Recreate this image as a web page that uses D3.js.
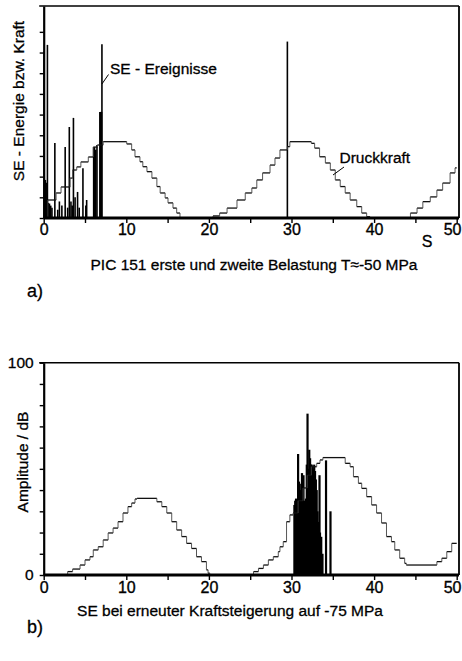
<!DOCTYPE html>
<html>
<head>
<meta charset="utf-8">
<script src="https://cdn.jsdelivr.net/npm/d3@7/dist/d3.min.js"></script>
<style>
  html, body { margin: 0; padding: 0; background: #fff; }
  svg { display: block; }
  text { font-family: "Liberation Sans", Arial, sans-serif; fill: #000; }
</style>
</head>
<body>
<svg id="chart" width="462" height="661"></svg>
<script>
// ---- Data ----------------------------------------------------------------
// a) first and second loading: compressive force, stepped (time in s, level)
const forceATime = [0, 0.5, 1.5, 2.1, 3.2, 3.5, 4.0, 4.5, 5.4, 6.0, 6.5, 7.2,
  10.05, 10.65, 11.05, 11.65, 12.0, 12.5, 13.1, 13.7, 14.1, 14.7, 15.05, 15.65, 16.1, 16.5,
  20.5, 21.3, 22.2, 23.4, 24.4, 25.2, 25.8, 26.5, 27.4, 28.0, 28.6, 29.5, 29.8,
  32.4, 32.8, 33.4, 34.1, 34.7, 35.3, 35.9, 36.5, 37.1, 37.9, 38.5, 39.1, 39.5,
  44.4, 45.2, 45.9, 46.8, 47.6, 48.3, 49.2, 49.8, 50];
const forceAValue = [0, 8.7, 12.1, 15, 19.3, 23.2, 24.7, 27.1, 29.5, 34.3, 35.3, 36.9,
  35.8, 32.9, 29.6, 27.2, 24.8, 22.4, 19.3, 15.2, 12.1, 9.7, 7.3, 4.8, 2.4, 0,
  1, 2.4, 4.8, 8.7, 12.1, 14.5, 18.4, 21.8, 25.6, 29, 32.9, 34.5, 36.9,
  36.1, 33.8, 29.6, 26.6, 23.2, 18.4, 15.2, 12.1, 8.7, 5.5, 2.4, 0.6, 0,
  2.4, 4.8, 7.9, 10.2, 13.5, 16.9, 21.8, 24.2, 24.2];

// a) acoustic emission events (time in s, energy)
const eventsATime = [0.05, 0.1, 0.2, 0.3, 0.45, 0.55, 0.7, 0.85, 1.0, 1.35, 1.7, 1.9, 2.2,
  2.6, 2.9, 3.1, 3.3, 3.45, 3.6, 3.8, 4.1, 4.3, 4.75, 5.1, 5.2, 6.05, 6.15, 6.3, 6.45,
  6.8, 6.9, 7.0, 7.05, 29.5];
const eventsAValue = [80.6, 18.4, 18.4, 17, 83.7, 7.3, 7, 6, 5, 36.3, 4, 8, 6,
  34.3, 5, 44, 8, 6, 48.4, 10, 12.6, 5, 24, 6, 8.7, 34.3, 34.3, 33, 35.3,
  51.3, 51.3, 51.3, 84, 85.3];

// b) renewed load increase to -75 MPa: compressive force, stepped
const forceBTime = [0, 2.9, 3.5, 4.4, 5.0, 5.6, 6.0, 6.6, 7.2, 7.8, 8.4, 9.0, 9.6, 10.2, 10.65,
  11.05, 11.3, 13.7, 14.3, 14.9, 15.5, 16.1, 16.7, 17.3, 17.9, 18.5, 19.1, 19.7, 19.9, 20.1,
  25.4, 26.0, 26.6, 27.2, 27.8, 28.4, 28.6, 29.0, 29.4, 29.8, 30.2, 30.8, 31.4, 31.9, 32.4,
  33.05, 33.45, 33.8, 36.5, 37.1, 37.5, 38.1, 38.5, 39.1, 39.7, 40.3, 40.9, 41.5, 42.1, 42.5,
  43.1, 43.7, 43.9, 47.6, 48.2, 48.8, 49.4, 50];
const forceBValue = [0, 1.6, 2.8, 4.7, 7.1, 8.6, 11.8, 13.3, 16.5, 19.8, 22.1, 25.1, 29.2, 32.2, 33.9,
  35.8, 36.1, 34.5, 32.2, 29.2, 25.1, 21.2, 18.1, 14.9, 12.5, 8.6, 6.3, 2.4, 0.9, 0,
  1.6, 3.1, 4.7, 7.1, 8.6, 11, 13.3, 15.7, 25.1, 28.3, 29.2, 35, 41, 47, 51,
  52.6, 54.2, 55.3, 52.6, 51, 46.3, 43.2, 40.8, 36.9, 33, 29.2, 24.5, 18.1, 15.7, 11.8,
  7.9, 5.5, 4.7, 6.3, 7.9, 11, 14.9, 14.9];

// b) acoustic emission amplitudes (time in s, dB)
const eventsBTime = [30.35, 30.45, 30.55, 30.65, 30.8, 30.9, 31.0, 31.1, 31.2, 31.27, 31.35,
  31.45, 31.55, 31.65, 31.75, 31.85, 31.94, 32.05, 32.15, 32.25, 32.35, 32.45, 32.55, 32.65,
  32.75, 32.85, 32.95, 33.05, 33.15, 33.25, 33.39, 33.45, 33.6, 33.75, 34.18, 34.72];
const eventsBValue = [33, 35, 36, 35, 57, 44, 43, 40, 38, 48, 45,
  47, 35, 33, 36, 52, 76, 50, 59, 55, 52, 52, 51, 50,
  52, 49, 45, 40, 30, 25, 47, 20, 18, 10, 54, 30];

// Axis ticks
const xTicks = [0, 5, 10, 15, 20, 25, 30, 35, 40, 45, 50];
const xTickLabels = [0, 10, 20, 30, 40, 50];
const yTicksA = [0, 10, 20, 30, 40, 50, 60, 70, 80, 90];
const yTicksB = [0, 10, 20, 30, 40, 50, 60, 70, 80, 90, 100];
const yTickLabelsB = [0, 100];

// ---- Drawing -------------------------------------------------------------
const svg = d3.select("#chart");
const FONT = 15.5;
const W = 462;

const x = d3.scaleLinear().domain([0, 50]).range([43.7, 456.7]);
const yA = d3.scaleLinear().domain([0, 102.5]).range([218, 6]);
const yB = d3.scaleLinear().domain([0, 100]).range([575, 362.7]);

function zipSteps(ts, vs) { return ts.map((t, i) => ({ t, v: vs[i] })); }

function drawPanel(opts) {
  const { y, forceT, forceV, evT, evV, evWidth, yTicks, yLabels, labelPad } = opts;
  const g = svg.append("g");
  const y0 = y(0), yTop = y.range()[1];
  const xl = x(0), xr = 459;

  // events: vertical lines from baseline
  const ev = zipSteps(evT, evV);
  g.append("g").selectAll("line").data(ev).join("line")
    .attr("x1", d => x(d.t)).attr("x2", d => x(d.t))
    .attr("y1", y0).attr("y2", d => y(d.v))
    .attr("stroke", "#000").attr("stroke-width", evWidth);

  // force: stepped line, treads dark, risers lighter
  const steps = zipSteps(forceT, forceV);
  const treads = steps.slice(0, -1).map((d, i) => ({ t0: d.t, t1: steps[i + 1].t, v: d.v }));
  const risers = steps.slice(1).map((d, i) => ({ t: d.t, v0: steps[i].v, v1: d.v }));
  g.append("g").selectAll("line").data(treads).join("line")
    .attr("x1", d => x(d.t0)).attr("x2", d => x(d.t1))
    .attr("y1", d => y(d.v)).attr("y2", d => y(d.v))
    .attr("stroke", "#111").attr("stroke-width", 1.3);
  g.append("g").selectAll("line").data(risers).join("line")
    .attr("x1", d => x(d.t)).attr("x2", d => x(d.t))
    .attr("y1", d => y(d.v0)).attr("y2", d => y(d.v1))
    .attr("stroke", "#444").attr("stroke-width", 0.9);

  // frame: top and right
  g.append("line").attr("x1", xl - 4.5).attr("x2", xr).attr("y1", yTop).attr("y2", yTop)
    .attr("stroke", "#000").attr("stroke-width", 1.6);
  g.append("line").attr("x1", xr).attr("x2", xr).attr("y1", yTop).attr("y2", y0)
    .attr("stroke", "#000").attr("stroke-width", 1.8);

  // left axis
  const ax = g.append("g").attr("transform", `translate(${xl},0)`)
    .call(d3.axisLeft(y).tickValues(yTicks).tickSize(4).tickSizeOuter(0).tickPadding(6)
      .tickFormat(d => yLabels.includes(d) ? d : ""));
  ax.select(".domain").attr("stroke-width", 2.2);
  ax.selectAll(".tick line").attr("stroke-width", 1.4);
  ax.selectAll("text").attr("font-size", FONT).attr("font-family", null)
    .attr("stroke", "#000").attr("stroke-width", 0.3);

  // bottom axis (thick baseline)
  const bx = g.append("g").attr("transform", `translate(0,${y0})`)
    .call(d3.axisBottom(x).tickValues(xTicks).tickSize(5).tickSizeOuter(0).tickPadding(labelPad)
      .tickFormat(d => xTickLabels.includes(d) ? d : ""));
  bx.select(".domain").attr("stroke-width", 3).attr("d", `M${xl},0H${xr}`);
  bx.selectAll(".tick line").attr("stroke-width", 1.4);
  bx.selectAll("text").attr("font-size", 16).attr("font-family", null)
    .attr("stroke", "#000").attr("stroke-width", 0.35);
  // keep the last label inside the page edge
  bx.selectAll(".tick").filter(d => d === 50).select("text")
    .attr("text-anchor", "end").attr("x", (W - 1) - x(50));
  return g;
}

drawPanel({ y: yA, forceT: forceATime, forceV: forceAValue, evT: eventsATime, evV: eventsAValue,
  evWidth: 1.6, yTicks: yTicksA, yLabels: [], labelPad: 1 });
drawPanel({ y: yB, forceT: forceBTime, forceV: forceBValue, evT: eventsBTime, evV: eventsBValue,
  evWidth: 2.2, yTicks: yTicksB, yLabels: yTickLabelsB, labelPad: 1.5 });

function label(txt, px, py, size, anchor, rotate) {
  const t = svg.append("text").text(txt)
    .attr("font-size", size).attr("text-anchor", anchor || "start")
    .attr("stroke", "#000").attr("stroke-width", 0.3);
  if (rotate) t.attr("transform", `translate(${px},${py}) rotate(-90)`);
  else t.attr("x", px).attr("y", py);
  return t;
}

// axis titles
label("SE - Energie bzw. Kraft", 24, 101, FONT, "middle", true);
label("Amplitude / dB", 28, 462, FONT, "middle", true);
label("S", 427, 247, 16, "middle");

// annotations with leader lines
label("SE - Ereignisse", 110, 73.5, FONT, "start");
svg.append("line").attr("x1", x(7.05)).attr("y1", 84).attr("x2", 108.5).attr("y2", 74.5)
  .attr("stroke", "#000").attr("stroke-width", 1);
label("Druckkraft", 339.5, 163, FONT, "start");
svg.append("line").attr("x1", 333).attr("y1", 175).attr("x2", 344).attr("y2", 167)
  .attr("stroke", "#000").attr("stroke-width", 1);

// captions
label("PIC 151 erste und zweite Belastung T\u2248-50 MPa", 254, 270, FONT, "middle");
label("a)", 27, 297, 18, "start");
label("SE bei erneuter Kraftsteigerung auf -75 MPa", 230, 616, FONT, "middle");
label("b)", 27, 633, 18, "start");
</script>
</body>
</html>
